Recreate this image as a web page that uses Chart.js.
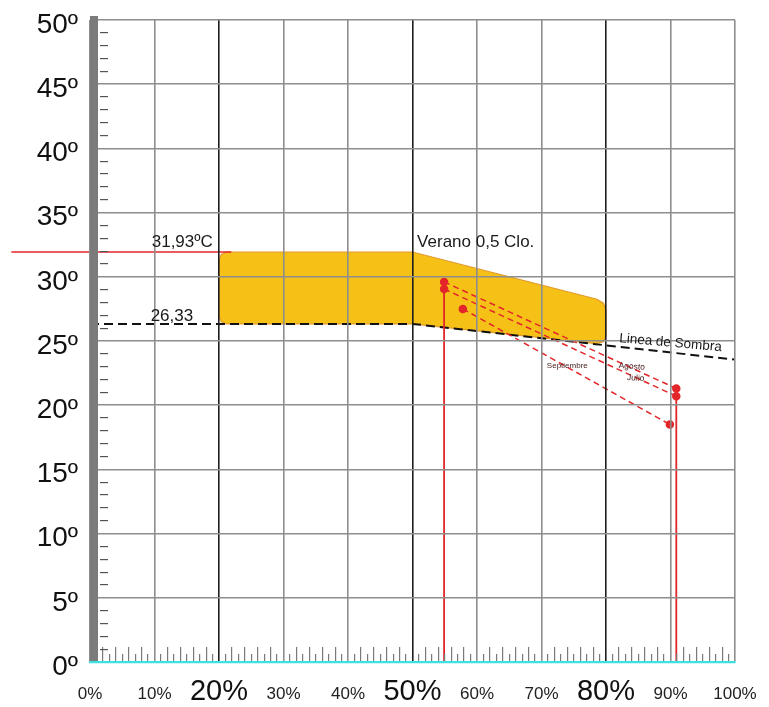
<!DOCTYPE html>
<html><head><meta charset="utf-8">
<script src="https://cdn.jsdelivr.net/npm/chart.js@4"></script>
<style>html,body{margin:0;padding:0;background:#fff}</style>
</head><body>
<canvas id="c" width="769" height="707"></canvas>
<script>
// ---- data ----
const humidityTicks = [0,10,20,30,40,50,60,70,80,90,100];
const bigHumidityTicks = [20,50,80];
const tempTicks = [0,5,10,15,20,25,30,35,40,45,50];

// comfort zone "Verano 0,5 Clo." outline (humidity %, temperature ºC)
const comfortX = [20, 20.35, 21.2, 50, 78.6, 79.6, 80, 80, 79.6, 78.5, 50, 21.2, 20.35, 20, 20];
const comfortY = [31.3, 31.75, 31.93, 31.93, 28.25, 27.95, 27.4, 25.4, 24.95, 24.8, 26.33, 26.33, 26.5, 26.95, 31.3];

// "Linea de Sombra"
const shadowX = [0, 50, 100];
const shadowY = [26.33, 26.33, 23.55];

// 31,93 ºC limit line
const limitX = [-12.2, 21.9];
const limitY = [31.93, 31.93];

// monthly lines
const julioX = [54.9, 90.9];
const julioY = [29.05, 20.7];
const agostoX = [54.9, 90.9];
const agostoY = [29.6, 21.3];
const septX = [57.8, 89.9];
const septY = [27.5, 18.5];

// vertical red reference lines
const vert1X = [54.9, 54.9];
const vert1Y = [29.05, 0];
const vert2X = [90.9, 90.9];
const vert2Y = [20.7, 0];

// text notes
const notes = [
  {text:'31,93ºC', x:14.3, y:32.7, size:17, color:'#1a1a1a', rot:0},
  {text:'26,33', x:12.7, y:26.9, size:17, color:'#1a1a1a', rot:0},
  {text:'Verano 0,5 Clo.', x:59.8, y:32.65, size:17, color:'#1a1a1a', rot:0},
  {text:'Linea de Sombra', x:90.0, y:24.85, size:13.5, color:'#1a1a1a', rot:5},
  {text:'Septiembre', x:74.0, y:23.05, size:8, color:'#4a2222', rot:0},
  {text:'Agosto', x:84.0, y:23.0, size:8.5, color:'#4a2222', rot:4},
  {text:'Julio', x:84.6, y:22.1, size:8.5, color:'#4a2222', rot:4}
];

const pts = (xs, ys) => xs.map((x, i) => ({x, y: ys[i]}));
const FONT = "'Liberation Sans', Arial, sans-serif";
const RED = '#e3262a';
const GRAY = '#8e8e8e';
const BLACK = '#1e1e1e';

const notesPlugin = {
  id: 'notes',
  afterDraw(chart) {
    const {ctx, scales} = chart;
    notes.forEach(n => {
      const px = scales.x.getPixelForValue(n.x);
      const py = scales.y.getPixelForValue(n.y);
      ctx.save();
      ctx.translate(px, py);
      ctx.rotate(n.rot * Math.PI / 180);
      ctx.font = n.size + 'px ' + FONT;
      ctx.fillStyle = n.color;
      ctx.textAlign = 'center';
      ctx.textBaseline = 'middle';
      ctx.fillText(n.text, 0, 0);
      ctx.restore();
    });
  }
};

const zeroPad = s => { s.paddingTop = 0; s.paddingBottom = 0; s.paddingLeft = 0; s.paddingRight = 0; };

const lineDs = (label, xs, ys, extra) => Object.assign({
  label, data: pts(xs, ys), showLine: true, pointRadius: 0, borderWidth: 1.5, fill: false, tension: 0, order: 0
}, extra);

new Chart(document.getElementById('c'), {
  type: 'scatter',
  data: {
    datasets: [
      lineDs('Verano 0,5 Clo.', comfortX, comfortY, {
        borderColor: '#e39a2a', borderWidth: 1.2, backgroundColor: '#f5c117', fill: 'shape', order: 10
      }),
      lineDs('Linea de Sombra', shadowX, shadowY, {
        borderColor: '#111', borderWidth: 2, borderDash: [9, 5], order: 5
      }),
      lineDs('31,93ºC', limitX, limitY, {borderColor: RED, borderWidth: 1.6, clip: false, order: 4}),
      lineDs('Julio', julioX, julioY, {
        borderColor: RED, borderDash: [6, 4], pointRadius: 3.5, pointBackgroundColor: RED, pointBorderColor: RED, order: 1
      }),
      lineDs('Agosto', agostoX, agostoY, {
        borderColor: RED, borderDash: [6, 4], pointRadius: 3.5, pointBackgroundColor: RED, pointBorderColor: RED, order: 1
      }),
      lineDs('Septiembre', septX, septY, {
        borderColor: RED, borderDash: [6, 4], pointRadius: 3.5, pointBackgroundColor: RED, pointBorderColor: RED, order: 1
      }),
      lineDs('v1', vert1X, vert1Y, {borderColor: RED, borderWidth: 1.8, order: 2}),
      lineDs('v2', vert2X, vert2Y, {borderColor: RED, borderWidth: 1.8, order: 2})
    ]
  },
  options: {
    responsive: false,
    animation: false,
    devicePixelRatio: 1,
    layout: {padding: {top: 20, right: 34, left: 0, bottom: 0}},
    plugins: {legend: {display: false}, tooltip: {enabled: false}},
    scales: {
      x: {
        type: 'linear', min: 0, max: 100,
        afterBuildTicks: s => { s.ticks = humidityTicks.map(v => ({value: v})); },
        afterFit: s => { s.height = 45; zeroPad(s); },
        ticks: {
          autoSkip: false, maxRotation: 0, padding: 22, color: '#222',
          font: {family: FONT, size: 17},
          callback: v => bigHumidityTicks.includes(v) ? '' : v + '%'
        },
        grid: {
          z: 1, drawTicks: false,
          color: c => bigHumidityTicks.includes(c.tick && c.tick.value) ? BLACK : GRAY,
          lineWidth: 1.6
        },
        border: {display: true, color: '#3fe0e0', width: 2.2, z: 3}
      },
      xBig: {
        type: 'linear', min: 0, max: 100, position: {y: 0},
        afterBuildTicks: s => { s.ticks = bigHumidityTicks.map(v => ({value: v})); },
        afterFit: zeroPad,
        ticks: {autoSkip: false, maxRotation: 0, padding: 13, color: '#111',
          font: {family: FONT, size: 29}, callback: v => v + '%'},
        grid: {drawOnChartArea: false, drawTicks: false},
        border: {display: false}
      },
      xMinorTall: {
        type: 'linear', min: 0, max: 100, position: {y: 1.17},
        afterFit: zeroPad,
        ticks: {display: false, stepSize: 2, autoSkip: false},
        grid: {drawOnChartArea: false, drawTicks: true, tickLength: 15, lineWidth: 1.2, z: 2,
          tickColor: c => (c.tick && c.tick.value % 10 === 0) ? 'rgba(0,0,0,0)' : '#7a7a7a'},
        border: {display: false}
      },
      xMinorShort: {
        type: 'linear', min: 0, max: 100, position: {y: 0.62},
        afterFit: zeroPad,
        ticks: {display: false, stepSize: 1, autoSkip: false},
        afterBuildTicks: s => { s.ticks = s.ticks.filter(t => Math.round(t.value) % 2 === 1); },
        grid: {drawOnChartArea: false, drawTicks: true, tickLength: 8, lineWidth: 1.2, z: 2, tickColor: '#7a7a7a'},
        border: {display: false}
      },
      y: {
        type: 'linear', min: 0, max: 50,
        afterBuildTicks: s => { s.ticks = tempTicks.map(v => ({value: v})); },
        afterFit: s => { s.width = 90; zeroPad(s); },
        ticks: {padding: 12, labelOffset: 5, color: '#111', font: {family: FONT, size: 28},
          callback: v => v + 'º'},
        grid: {z: 1, drawTicks: false, color: GRAY, lineWidth: 1.6},
        border: {display: false}
      },
      yBar: {
        type: 'linear', min: 0, max: 50, position: {x: 0.62},
        afterFit: zeroPad,
        ticks: {display: false},
        grid: {drawOnChartArea: false, drawTicks: false},
        border: {display: true, color: '#7b7b7b', width: 8, z: 2}
      },
      yMinor: {
        type: 'linear', min: 0, max: 50, position: {x: 2.75},
        afterFit: zeroPad,
        ticks: {display: false, stepSize: 1, autoSkip: false},
        grid: {drawOnChartArea: false, drawTicks: true, tickLength: 8, lineWidth: 1.2, z: 2,
          tickColor: c => (c.tick && (c.tick.value % 5 === 0)) ? 'rgba(0,0,0,0)' : '#555'},
        border: {display: false}
      }
    }
  },
  plugins: [notesPlugin]
});
</script>
</body></html>
